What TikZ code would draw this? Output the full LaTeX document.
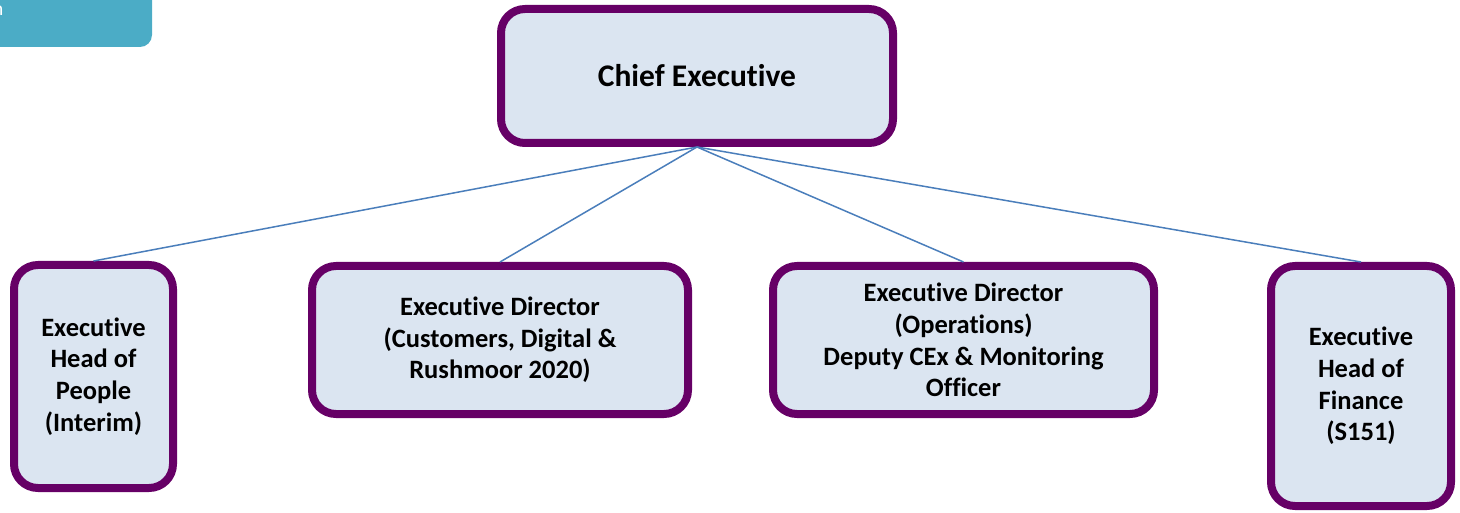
\documentclass[tikz,border=0pt]{standalone}
\usepackage{fontspec}
\setmainfont[Ligatures=NoCommon]{Carlito}
\definecolor{boxfill}{HTML}{DBE5F1}
\definecolor{boxline}{HTML}{660066}
\definecolor{linkblue}{HTML}{4A7EBB}
\definecolor{tabteal}{HTML}{4BACC6}
\begin{document}
\begin{tikzpicture}[x=1pt,y=-1pt,
    post/.style={draw=boxline, fill=boxfill, line width=8pt, rounded corners=24pt,
      align=center, font=\fontsize{26.5}{31.7}\selectfont\bfseries, inner sep=0pt},
    link/.style={draw=linkblue, line width=1.5pt}]
  \useasboundingbox (0,0) rectangle (1460,513);

  % Tab in the top left corner
  \begin{scope}
    \clip (0,0) rectangle (1460,513);
    \fill[tabteal, rounded corners=12pt] (-30,-30) rectangle (152,47);
    \node[white, anchor=base east, font=\fontsize{20}{24}\selectfont] (tabtext) at (7,16) {n};
  \end{scope}

  % Top post
  \node[post, minimum width=392pt, minimum height=134pt,
    font=\fontsize{31.5}{36}\selectfont\bfseries] (ce) at (697,76) {Chief Executive};

  % Second row
  \node[post, minimum width=159pt, minimum height=223pt] (people) at (93.5,376.5)
    {Executive\\Head of\\People\\(Interim)};
  \node[post, minimum width=376pt, minimum height=148pt] (cdr) at (500,340)
    {Executive Director\\(Customers, Digital \&\\Rushmoor 2020)};
  \node[post, minimum width=381pt, minimum height=148pt] (ops) at (963.5,340)
    {Executive Director\\(Operations)\\Deputy CEx \& Monitoring\\Officer};
  \node[post, minimum width=180pt, minimum height=240pt] (finance) at (1361,386)
    {Executive\\Head of\\Finance\\(S151)};

  % Reporting lines
  \draw[link] (ce.south) -- (people.north);
  \draw[link] (ce.south) -- (cdr.north);
  \draw[link] (ce.south) -- (ops.north);
  \draw[link] (ce.south) -- (finance.north);
\end{tikzpicture}
\end{document}
